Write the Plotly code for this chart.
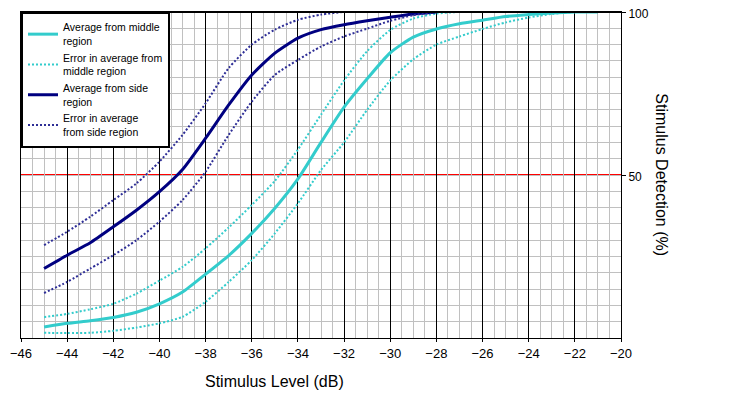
import plotly.graph_objects as go

x_mid = [-45, -44, -43, -42, -41, -40, -39, -38, -37, -36, -35, -34, -33,
         -32, -31, -30, -29, -28, -27, -26, -25, -24, -23, -22, -21]
mid_avg = [3.4, 4.5, 5.3, 6.3, 7.9, 10.5, 14.1, 19.6, 25.3, 32.1, 39.8, 48.8, 60.0,
           70.8, 79.5, 87.5, 92.3, 94.8, 96.4, 97.5, 98.6, 99.2, 99.7, 100, 100]
mid_hi = [6.4, 7.4, 8.8, 10.5, 13.6, 17.6, 21.8, 27.5, 33.9, 40.8, 48.2, 57.8, 68.5,
          79.0, 88.0, 94.5, 98.0, 99.5, 100, 100, 100, 100, 100, 100, 100]
mid_lo = [1.6, 1.5, 1.6, 2.2, 3.2, 4.5, 6.5, 11.1, 17.2, 23.9, 32.1, 41.3, 51.5,
          60.0, 70.0, 79.0, 85.5, 90.0, 92.5, 94.8, 96.8, 98.3, 99.4, 100, 100]

x_side = [-45, -44, -43, -42, -41, -40, -39, -38, -37, -36, -35, -34, -33,
          -32, -31, -30, -29, -28]
side_avg = [21.3, 25.4, 29.2, 34.1, 39.2, 44.9, 51.7, 61.3, 71.5, 80.7, 87.4, 92.0, 94.6,
            96.1, 97.3, 98.4, 99.4, 100]
side_hi = [28.5, 32.6, 37.2, 42.3, 47.4, 54.1, 62.3, 72.0, 82.8, 90.0, 94.6, 97.6, 99.2,
           100, 100, 100, 100, 100]
side_lo = [13.8, 17.2, 21.3, 25.4, 30.0, 35.7, 42.3, 51.0, 62.3, 72.5, 80.7, 85.3, 89.4,
           92.5, 94.9, 97.3, 99.0, 100]

names = ["Average from middle<br>region", "Error in average from<br>middle region",
         "Average from side<br>region", "Error in average<br>from side region"]
x_tickvals = list(range(-46, -19, 2))
y_tickvals = [50, 100]
ref_level = 50

CYAN = "#33CCCC"
NAVY = "#000080"
NAVY_DOT = "#2E2E96"
FONT = "Liberation Sans, Arial, sans-serif"

fig = go.Figure()
fig.add_trace(go.Scatter(x=x_mid, y=mid_avg, mode="lines", name=names[0],
                         line=dict(color=CYAN, width=3, shape="spline", smoothing=0.6)))
fig.add_trace(go.Scatter(x=x_mid, y=mid_hi, mode="lines", name=names[1], legendgroup="me",
                         line=dict(color=CYAN, width=2, dash="2px,2px", shape="spline", smoothing=0.6)))
fig.add_trace(go.Scatter(x=x_mid, y=mid_lo, mode="lines", name=names[1], legendgroup="me",
                         showlegend=False,
                         line=dict(color=CYAN, width=2, dash="2px,2px", shape="spline", smoothing=0.6)))
fig.add_trace(go.Scatter(x=x_side, y=side_avg, mode="lines", name=names[2],
                         line=dict(color=NAVY, width=3, shape="spline", smoothing=0.6)))
fig.add_trace(go.Scatter(x=x_side, y=side_hi, mode="lines", name=names[3], legendgroup="se",
                         line=dict(color=NAVY_DOT, width=2, dash="2px,2px", shape="spline", smoothing=0.6)))
fig.add_trace(go.Scatter(x=x_side, y=side_lo, mode="lines", name=names[3], legendgroup="se",
                         showlegend=False,
                         line=dict(color=NAVY_DOT, width=2, dash="2px,2px", shape="spline", smoothing=0.6)))

# the page body adds an 8px offset, so the figure is 8px smaller than the window
fig.update_layout(
    width=725, height=388,
    margin=dict(l=13, r=112, t=4, b=58, autoexpand=False),
    paper_bgcolor="white", plot_bgcolor="white",
    font=dict(family=FONT, size=12, color="black"),
    showlegend=True,
    legend=dict(x=0, y=1, xanchor="left", yanchor="top",
                bgcolor="white", bordercolor="black", borderwidth=2,
                font=dict(size=10.5, family=FONT), tracegroupgap=0,
                itemwidth=30),
    xaxis=dict(range=[-46, -20], tickmode="array", tickvals=x_tickvals,
               automargin=False,
               showgrid=True, gridcolor="black", gridwidth=1,
               minor=dict(tickmode="linear", tick0=-46, dtick=0.5, showgrid=True,
                          gridcolor="#C0C0C0", gridwidth=1),
               showline=True, linecolor="black", linewidth=1, mirror=True,
               ticks="outside", ticklen=3, tickcolor="black",
               zeroline=False, tickfont=dict(size=13)),
    yaxis=dict(range=[0, 100], side="right", tickmode="array", tickvals=y_tickvals,
               automargin=False, ticklabeloverflow="allow", ticklabelshift=2,
               showgrid=False,
               minor=dict(tickmode="linear", tick0=0, dtick=5, showgrid=True,
                          gridcolor="#C0C0C0", gridwidth=1),
               showline=True, linecolor="black", linewidth=1, mirror=True,
               ticks="outside", ticklen=4, tickcolor="black",
               zeroline=False, tickfont=dict(size=12)),
    shapes=[
        dict(type="rect", xref="paper", x0=0, x1=1, yref="y", ysizemode="pixel",
             yanchor=ref_level, y0=0, y1=1, fillcolor="#FF0000",
             line=dict(width=0), layer="below"),
        dict(type="line", xref="paper", yref="y", x0=0, x1=1, y0=100, y1=100,
             line=dict(color="black", width=2), layer="above"),
    ],
    annotations=[
        dict(text="Stimulus Level (dB)", xref="paper", yref="paper",
             x=0.4217, y=-0.132, xanchor="center", yanchor="middle",
             showarrow=False, font=dict(size=16, family=FONT)),
        dict(text="Stimulus Detection (%)", xref="paper", yref="paper",
             x=1.0678, y=0.5, xanchor="center", yanchor="middle", textangle=90,
             showarrow=False, font=dict(size=16, family=FONT)),
    ],
)

fig.write_html("out.html")
